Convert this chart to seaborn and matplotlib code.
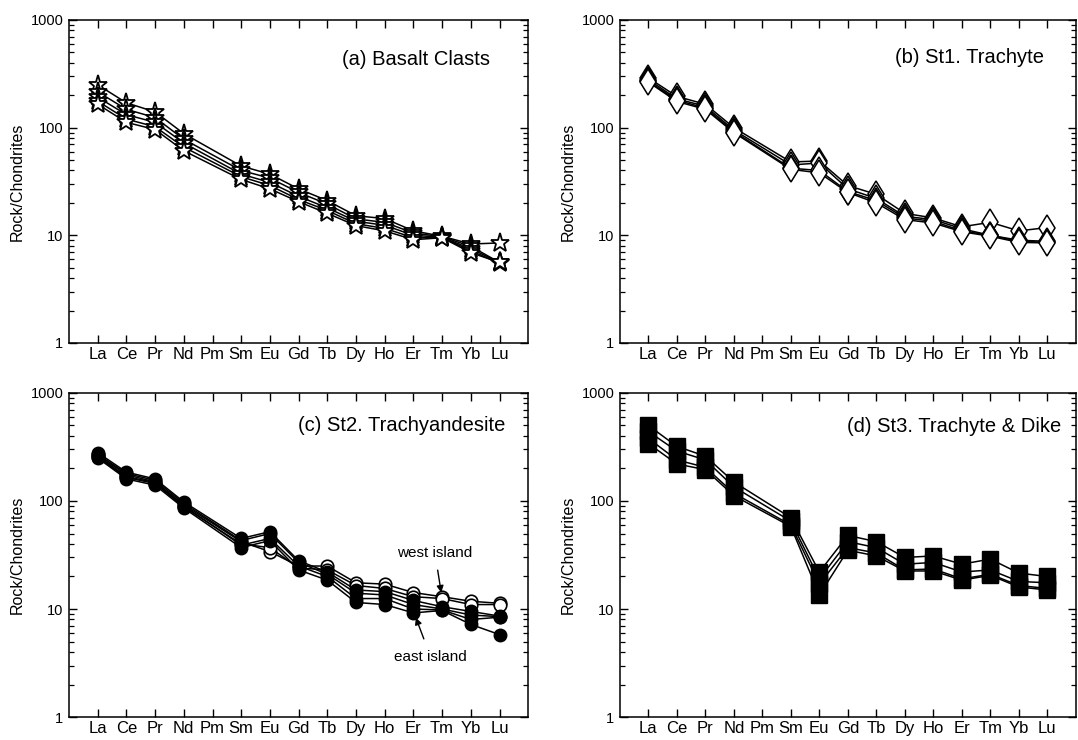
import numpy as np
import pandas as pd
import matplotlib
matplotlib.use("Agg")
import matplotlib.pyplot as plt
import seaborn as sns
from matplotlib.ticker import LogLocator, NullFormatter

sns.set_style("ticks")
plt.rcParams['font.family'] = ['Liberation Sans', 'DejaVu Sans']
plt.rcParams['text.color'] = 'k'
plt.rcParams['axes.labelcolor'] = 'k'
plt.rcParams['xtick.color'] = 'k'
plt.rcParams['ytick.color'] = 'k'

elements = ['La', 'Ce', 'Pr', 'Nd', 'Pm', 'Sm', 'Eu', 'Gd', 'Tb', 'Dy', 'Ho', 'Er', 'Tm', 'Yb', 'Lu']
nan = np.nan

# (a) Basalt clasts
basalt = {
    'B1': [250, 170, 140, 88, nan, 44, 37, 27, 21, 15.2, 14.3, 11.0, 9.8, 8.3, 8.5],
    'B2': [215, 148, 124, 78, nan, 40, 34, 25, 19.5, 14.2, 13.2, 10.5, 9.7, 7.9, 5.6],
    'B3': [192, 132, 112, 72, nan, 37, 31, 23, 18, 13.5, 12.4, 10.0, 9.6, 7.5, 5.6],
    'B4': [176, 120, 102, 66, nan, 35, 29, 21.5, 17, 12.8, 11.6, 9.5, 9.5, 7.2, 5.5],
    'B5': [165, 112, 96, 61, nan, 33, 27, 20.5, 16, 12.3, 11.0, 9.1, 9.5, 6.9, 5.6],
}

# (b) St1. Trachyte
st1 = {
    'T1': [290, 195, 165, 100, nan, 48, 49, 29, 24, 16, 14.5, 12.0, 13.2, 11.0, 11.8],
    'T2': [280, 185, 158, 95, nan, 45, 47, 27, 22, 15, 14.0, 11.5, 10.0, 9.0, 8.8],
    'T3': [270, 180, 152, 92, nan, 42, 40, 25.5, 21, 14.5, 13.5, 11.0, 10.0, 8.8, 8.6],
    'T4': [265, 175, 148, 90, nan, 41, 38, 25, 20, 14, 13.0, 10.8, 9.8, 8.6, 8.5],
}

# (c) St2. Trachyandesite
st2_west = {
    'W1': [265, 175, 150, 92, nan, 42, 34, 25, 25, 17.5, 17.0, 14.2, 13.0, 11.8, 11.3],
    'W2': [255, 165, 145, 88, nan, 40, 37, 24, 23, 16.5, 15.5, 13.0, 12.5, 11.0, 11.0],
}
st2_east = {
    'E1': [280, 185, 160, 98, nan, 45, 52, 28, 22, 15, 14.5, 12.0, 10.5, 9.5, 8.6],
    'E2': [270, 180, 155, 95, nan, 43, 50, 27, 21, 14, 13.5, 11.0, 10.0, 8.8, 8.5],
    'E3': [260, 168, 148, 90, nan, 39, 45, 25, 20, 12.5, 12.5, 10.0, 9.8, 8.0, 8.4],
    'E4': [250, 160, 140, 86, nan, 37, 43, 23, 18.5, 11.5, 11.0, 9.2, 9.7, 7.2, 5.8],
}

# (d) St3. Trachyte & Dike
st3 = {
    'D1': [500, 320, 260, 150, nan, 70, 22, 48, 42, 30, 31, 26, 29, 21.5, 20],
    'D2': [440, 290, 240, 135, nan, 65, 19, 42, 37, 26, 27, 22, 23, 18, 17.5],
    'D3': [380, 240, 205, 118, nan, 60, 17, 37, 33, 23, 23.5, 19, 21, 16.5, 15.5],
    'D4': [340, 220, 195, 112, nan, 58, 13.5, 35, 31, 22.5, 22.5, 18.5, 20.5, 16, 15],
}


def to_long(series):
    rows = []
    for name, vals in series.items():
        for i, v in enumerate(vals):
            if not np.isnan(v):
                rows.append({'sample': name, 'pos': i + 1, 'value': v})
    return pd.DataFrame(rows)


def draw(ax, series, **kw):
    df = to_long(series)
    sns.lineplot(data=df, x='pos', y='value', units='sample', estimator=None,
                 sort=False, color='k', linewidth=1.1, markeredgecolor='k',
                 ax=ax, **kw)


def style_axis(ax, title, tx, ty):
    ax.set_yscale('log')
    ax.set_ylim(1, 1000)
    ax.set_xlim(0, 16)
    ax.set_xticks(range(1, 16))
    ax.set_xticklabels(elements, fontsize=12)
    ax.set_yticks([1, 10, 100, 1000])
    ax.set_yticklabels(['1', '10', '100', '1000'], fontsize=10.5)
    ax.yaxis.set_minor_locator(LogLocator(base=10, subs=np.arange(2, 10)))
    ax.yaxis.set_minor_formatter(NullFormatter())
    ax.tick_params(which='major', direction='in', top=True, right=True, length=6, width=1, pad=4)
    ax.tick_params(which='minor', direction='in', top=False, right=True, length=3.5, width=0.9)
    ax.tick_params(axis='x', which='minor', bottom=False, top=False)
    ax.tick_params(axis='x', pad=3)
    ax.set_xlabel('')
    ax.set_ylabel('Rock/Chondrites', fontsize=11.5, labelpad=4)
    for s in ax.spines.values():
        s.set_linewidth(1.1)
        s.set_color('k')
    ax.text(tx, ty, title, transform=ax.transAxes, ha='right', va='center', fontsize=14.5)


fig = plt.figure(figsize=(10.78, 7.40), dpi=100)
ax_a = fig.add_axes([0.064, 0.5365, 0.426, 0.4365])
ax_b = fig.add_axes([0.575, 0.5365, 0.423, 0.4365])
ax_c = fig.add_axes([0.064, 0.031, 0.426, 0.438])
ax_d = fig.add_axes([0.575, 0.031, 0.423, 0.438])

draw(ax_a, basalt, marker='*', markersize=14, markerfacecolor='white', markeredgewidth=1.3)
draw(ax_b, st1, marker='d', markersize=13, markerfacecolor='white', markeredgewidth=1.1)
draw(ax_c, st2_west, marker='o', markersize=9, markerfacecolor='white', markeredgewidth=1.2)
draw(ax_c, st2_east, marker='o', markersize=9, markerfacecolor='k', markeredgewidth=1.0)
draw(ax_d, st3, marker='s', markersize=11, markerfacecolor='k', markeredgewidth=1.0)

style_axis(ax_a, '(a) Basalt Clasts', 0.917, 0.879)
style_axis(ax_b, '(b) St1. Trachyte', 0.93, 0.885)
style_axis(ax_c, '(c) St2. Trachyandesite', 0.95, 0.90)
style_axis(ax_d, '(d) St3. Trachyte & Dike', 0.969, 0.895)

ax_c.annotate('west island', xy=(13, 12.6), xytext=(12.75, 33), ha='center', va='center',
              fontsize=11, arrowprops=dict(arrowstyle='-|>', color='k', lw=1.0,
                                           shrinkA=5, shrinkB=4, mutation_scale=10))
ax_c.annotate('east island', xy=(12.05, 8.8), xytext=(12.6, 3.6), ha='center', va='center',
              fontsize=11, arrowprops=dict(arrowstyle='-|>', color='k', lw=1.0,
                                           shrinkA=6, shrinkB=2, mutation_scale=10))

fig.savefig('out.png', dpi=100)
